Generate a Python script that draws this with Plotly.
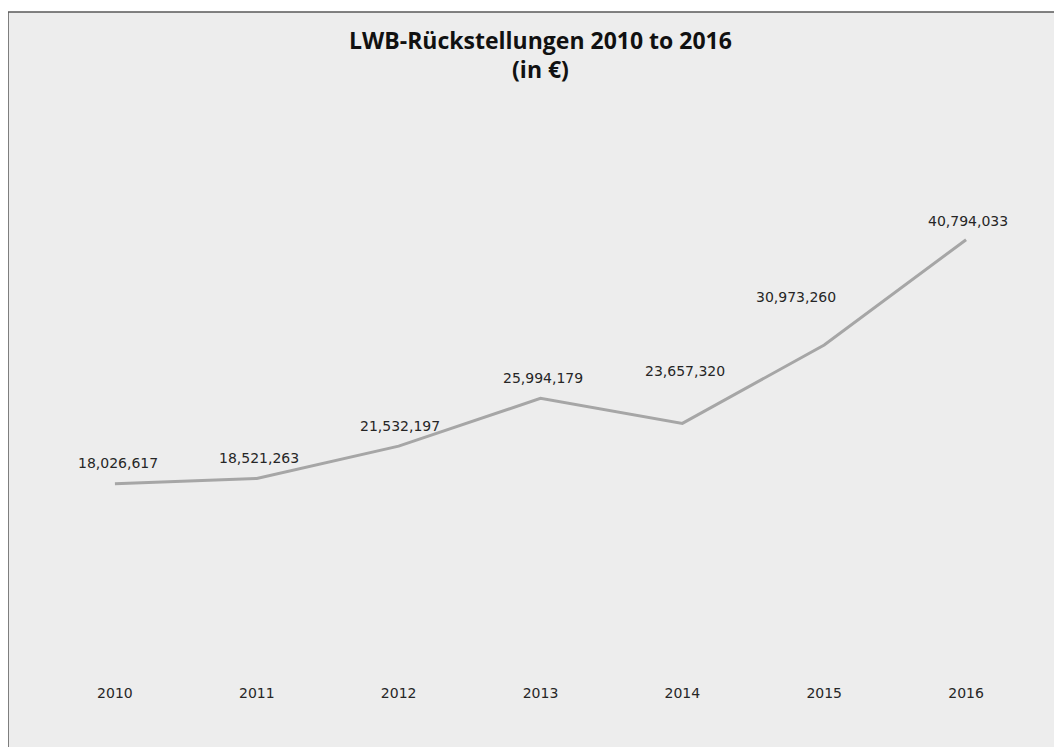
import plotly.graph_objects as go

years = [2010, 2011, 2012, 2013, 2014, 2015, 2016]
values = [18026617, 18521263, 21532197, 25994179, 23657320, 30973260, 40794033]
labels = ["18,026,617", "18,521,263", "21,532,197", "25,994,179",
          "23,657,320", "30,973,260", "40,794,033"]

# label offsets in pixels (styling)
label_dx = [3, 2, 1, 2, 3, -28, 2]
label_dy = [20.5, 20, 20, 20, 52, 48, 19]

W, H = 1062, 747
ML, MR, MT, MB = 36, 33, 133, 78
PW = W - ML - MR
PH = H - MT - MB

def px_x(p):
    return (p - ML) / PW

def px_y(p):
    return (H - MB - p) / PH

fig = go.Figure()
fig.add_trace(go.Scatter(
    x=years, y=values, mode="lines",
    line=dict(color="#a6a6a6", width=3),
    hoverinfo="skip", showlegend=False,
))

for x, y, t, dx, dy in zip(years, values, labels, label_dx, label_dy):
    fig.add_annotation(x=x, y=y, text=t, showarrow=False,
                       xanchor="center", yanchor="middle",
                       xshift=dx, yshift=dy,
                       font=dict(family="DejaVu Sans", size=14, color="#262626"))

fig.add_shape(type="rect", xref="paper", yref="paper",
              x0=px_x(0), x1=px_x(W + 30), y0=px_y(H + 30), y1=px_y(4),
              fillcolor="#ededed", line=dict(color="#595959", width=1.5),
              layer="below")

fig.update_layout(
    width=W, height=H,
    margin=dict(l=ML, r=MR, t=MT, b=MB),
    paper_bgcolor="white",
    plot_bgcolor="rgba(0,0,0,0)",
    title=dict(text="<b>LWB-Rückstellungen 2010 to 2016<br>(in €)</b>",
               x=0.5, xref="paper", xanchor="center",
               y=1 - 40.5 / H, yref="container", yanchor="middle",
               font=dict(family="Open Sans", size=23, color="#111111")),
    xaxis=dict(range=[2009.5, 2016.5], tickmode="array", tickvals=years,
               ticktext=[str(y) for y in years], showgrid=False,
               zeroline=False, showline=False, ticks="",
               ticklabelstandoff=6,
               tickfont=dict(family="DejaVu Sans", size=14, color="#262626")),
    yaxis=dict(range=[0, 50000000], visible=False, showgrid=False,
               zeroline=False),
)

fig.write_html("out.html")
